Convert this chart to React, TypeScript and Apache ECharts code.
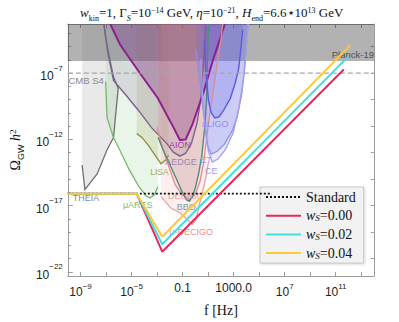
import { useEffect, useRef } from "react";
import * as echarts from "echarts";

// ---- axes (log10 units) ----
const X_MIN = -10;
const X_MAX = 14;
const Y_MIN = -22.32;
const Y_MAX = -3.3;
const X_TICKS = [-9, -7, -5, -3, -1, 1, 3, 5, 7, 9, 11, 13];
const X_LABELS = [-9, -5, -1, 3, 7, 11];
const Y_TICKS = [-22, -21, -20, -19, -18, -16, -15, -14, -13, -11, -10, -9, -8, -6, -5, -4];
const Y_LABELS = [-22, -17, -12, -7];
const Y_RIGHT_TICKS = [-21, -19, -17, -15, -13, -11, -9, -7, -5];

// ---- constraints ----
const PLANCK_19 = [[-10, -6.1], [14, -6.1]];
const CMB_S4 = [[-10, -7], [14, -7]];

// ---- sensitivity curves [log10 f, log10 Omega h^2] ----
const THEIA = [[-8.88, -13.94], [-8.66, -15.79], [-7.69, -14.6], [-6.94, -12.83], [-6.42, -11.87], [-6.2, -9.64], [-6.05, -8.16], [-6.42, -7.27], [-6.67, -6.16], [-7.02, -4.46], [-7.17, -3.3]];
const MU_ARES = [[-7.04, -7.64], [-6.92, -10.38], [-6.42, -11.87], [-5.92, -12.83], [-5.18, -14.31], [-4.43, -15.57], [-3.82, -16.31], [-3.57, -16.43], [-3.2, -16.18], [-2.94, -15.57]];
const LISA = [[-4.6, -11.57], [-4.19, -11.86], [-3.69, -12.46], [-3.22, -13.12], [-2.7, -13.84], [-2.33, -13.57], [-2.1, -13.2]];
const AEDGE = [[-7.17, -3.3], [-6.87, -5.42], [-6.42, -7.55], [-5.45, -8.66], [-4.43, -9.86], [-3.44, -11.12], [-2.2, -12.36], [-1.73, -12.97], [-1.21, -13.27], [-0.76, -13.05], [-0.31, -12.31], [0.13, -10.75], [0.43, -8.9], [0.66, -5.94], [0.8, -3.3]];
const AION = [[-6.67, -3.3], [-5.92, -4.83], [-4.43, -6.9], [-2.94, -8.9], [-1.71, -11.12], [-1.21, -12.06], [-0.76, -12.01], [-0.24, -10.9], [0.66, -8.38], [1.4, -5.94], [1.92, -4.46], [2.3, -3.3]];
const DECIGO = [[-3.0, -11.12], [-2.7, -12.23], [-2.33, -13.34], [-1.95, -14.45], [-1.58, -15.42], [-1.06, -16.16], [-0.46, -16.53], [-0.01, -16.16], [0.36, -15.19], [0.66, -13.71], [0.88, -11.86], [1.18, -9.64], [1.48, -7.79], [1.77, -5.94], [2.0, -4.46], [2.15, -3.3]];
const MU_DECIGO = [[-2.7, -16.31], [-1.95, -17.17], [-1.21, -17.54], [-0.61, -18.08], [-0.24, -18.42], [0.06, -18.08], [0.28, -17.04], [0.58, -15.93], [0.8, -14.97], [1.03, -13.71]];
const BBO = [[-2.92, -11.86], [-2.55, -12.75], [-2.1, -13.71], [-1.45, -15.07], [-1.06, -15.93], [-0.71, -16.55], [-0.46, -16.67], [-0.16, -16.16], [0.06, -15.42], [0.28, -14.45], [0.51, -13.2], [0.73, -11.12], [0.88, -8.9], [0.95, -5.94], [1.03, -3.3]];
const ET = [[0.04, -5.2], [0.21, -6.68], [0.41, -7.92], [0.58, -9.64], [0.78, -11.12], [0.95, -12.46], [1.25, -13.12], [1.7, -12.9], [2.27, -12.38], [2.89, -11.35], [3.26, -10.38], [3.64, -8.53], [3.86, -6.68], [4.01, -4.46], [4.08, -3.3]];
const CE = [[0.43, -5.94], [0.58, -8.9], [0.8, -11.49], [1.03, -12.97], [1.33, -13.71], [1.77, -13.49], [2.37, -12.75], [2.97, -11.49], [3.41, -9.64], [3.71, -7.79], [3.93, -5.94], [4.08, -4.09], [4.16, -3.3]];
const ALIGO = [[0.73, -4.46], [0.8, -6.68], [1.03, -9.12], [1.25, -10.01], [1.53, -10.38], [1.85, -10.31], [2.22, -9.79], [2.74, -8.9], [3.11, -7.79], [3.39, -6.68], [3.56, -5.2], [3.71, -3.72]];

// ---- model spectra ----
const STANDARD = [[-10, -16.1], [6, -16.1]];
const WS_000 = [[-10, -16.1], [-4.6, -16.1], [-2.6, -20.48], [11.63, -6.73]];
const WS_002 = [[-10, -16.1], [-4.6, -16.1], [-2.6, -19.92], [11.91, -5.82]];
const WS_004 = [[-10, -16.1], [-4.6, -16.1], [-2.6, -19.35], [12.13, -4.91]];

// ---- detector labels ----
const LABEL_TEXT = ["AION", "AEDGE", "LISA", "THEIA", "μARES", "DECIGO", "BBO", "μ-DECIGO", "aLIGO", "ET", "CE", "Planck-19", "CMB S4"];
const LABEL_POS = [[-1.21, -12.43], [-1.13, -13.72], [-2.82, -14.45], [-8.58, -16.4], [-4.52, -16.92], [-0.76, -16.26], [-0.72, -17.12], [-0.33, -18.96], [1.55, -10.86], [0.84, -13.58], [1.25, -14.42], [14, -5.58], [-9.95, -7.57]];

const CURVES = [THEIA, MU_ARES, LISA, AEDGE, AION, DECIGO, MU_DECIGO, BBO, ET, CE, ALIGO];
const CURVE_STYLE = [
  { line: "#6f6f6f", fill: "rgba(120,120,120,0.16)", w: 1.3 },
  { line: "#74b86e", fill: "rgba(110,185,100,0.15)", w: 1.3 },
  { line: "#8f8f3c", fill: "rgba(150,150,60,0.16)", w: 1.3 },
  { line: "#7e6190", fill: "rgba(140,110,165,0.2)", w: 1.4 },
  { line: "#8e1f8e", fill: "rgba(130,40,140,0.32)", w: 2 },
  { line: "#e38c84", fill: "rgba(240,140,130,0.14)", w: 1.3 },
  { line: "#eea0a0", fill: "rgba(240,150,150,0.15)", w: 1.3 },
  { line: "#4f8a86", fill: "rgba(100,80,80,0.12)", w: 1.4 },
  { line: "#9090e6", fill: "rgba(100,100,230,0.22)", w: 1.3 },
  { line: "#a0a0f0", fill: "rgba(110,110,235,0.15)", w: 1.3 },
  { line: "#5a5ae0", fill: "rgba(90,90,230,0.22)", w: 1.4 },
];
const LABEL_STYLE = [
  { c: "#a33fa3", a: "center" },
  { c: "#a083ae", a: "center" },
  { c: "#a5a55c", a: "center" },
  { c: "#8c8c8c", a: "center" },
  { c: "#7dbb7b", a: "center" },
  { c: "#f0a4a0", a: "center" },
  { c: "#7f9b9b", a: "center" },
  { c: "#f08c8c", a: "center" },
  { c: "#8c8cee", a: "center" },
  { c: "#9a9af0", a: "center" },
  { c: "#9a9af0", a: "center" },
  { c: "#505050", a: "right" },
  { c: "#8a8a8a", a: "left" },
];

const SERIF = '"Liberation Serif", "DejaVu Serif", serif';
const SANS = '"Liberation Sans", "DejaVu Sans", sans-serif';

const supRichX = {
  b: { fontSize: 12, fontFamily: SANS, color: "#222", verticalAlign: "bottom" },
  s: { fontSize: 8, fontFamily: SANS, color: "#222", verticalAlign: "top", padding: [0, 0, 8, 0] },
};
const supRichY = {
  b: { fontSize: 12, fontFamily: SANS, color: "#222", verticalAlign: "bottom", padding: [6, 0, 0, 0] },
  s: { fontSize: 8, fontFamily: SANS, color: "#222", verticalAlign: "top", padding: [0, 0, 8, 0] },
};

function powLabel(v: number): string {
  const n = Math.round(v);
  if (n === -1) return "{b|0.1}";
  if (n === 3) return "{b|1000.0}";
  return `{b|10}{s|${n < 0 ? "−" + -n : n}}`;
}

function mathRich(size: number, small: number) {
  return {
    n: { fontSize: size, fontFamily: SERIF, color: "#111", verticalAlign: "bottom", padding: [0, 0, 3, 0] },
    i: { fontSize: size, fontFamily: SERIF, fontStyle: "italic", color: "#111", verticalAlign: "bottom", padding: [0, 0, 3, 0] },
    sub: { fontSize: small, fontFamily: SERIF, color: "#111", verticalAlign: "bottom" },
    subi: { fontSize: small, fontFamily: SERIF, fontStyle: "italic", color: "#111", verticalAlign: "bottom" },
    subs: { fontSize: small, fontFamily: SANS, color: "#111", verticalAlign: "bottom" },
    sup: { fontSize: small, fontFamily: SERIF, color: "#111", verticalAlign: "top" },
  };
}

function fillSeries(pts: number[][], fill: string) {
  return {
    type: "custom",
    data: pts,
    clip: true,
    silent: true,
    z: 1,
    renderItem: (params: any, api: any) => {
      if (params.dataIndex !== 0) return null;
      const top = params.coordSys.y;
      const p = pts.map((d) => api.coord(d));
      const poly = [[p[0][0], top], ...p, [p[p.length - 1][0], top]];
      return { type: "polygon", shape: { points: poly }, style: { fill } };
    },
  };
}

function strokeSeries(pts: number[][], stroke: string, w: number) {
  return {
    type: "custom",
    data: pts,
    clip: true,
    silent: true,
    z: 2,
    renderItem: (params: any, api: any) => {
      if (params.dataIndex !== 0) return null;
      const p = pts.map((d) => api.coord(d));
      return { type: "polyline", shape: { points: p }, style: { stroke, lineWidth: w, fill: "none" } };
    },
  };
}

export default function App() {
  const ref = useRef<HTMLDivElement>(null);
  useEffect(() => {
    document.body.style.margin = "0";
    const chart = echarts.init(ref.current!, undefined, { renderer: "svg" });
    const frame = { show: true, onZero: false, lineStyle: { color: "#9c9c9c", width: 1 } };
    const tickStyle = { color: "#9c9c9c", width: 1 };
    const series: any[] = [];
    series.push(fillSeries(PLANCK_19, "rgba(0,0,0,0.3)"));
    CURVES.forEach((c, k) => series.push(fillSeries(c, CURVE_STYLE[k].fill)));
    CURVES.forEach((c, k) => series.push(strokeSeries(c, CURVE_STYLE[k].line, CURVE_STYLE[k].w)));
    series.push({
      type: "line", data: CMB_S4, symbol: "none", silent: true, z: 3,
      lineStyle: { color: "#a6a6a6", width: 1.3, type: [5, 3] },
    });
    series.push({
      type: "custom", data: LABEL_POS, silent: true, z: 4,
      renderItem: (params: any, api: any) => {
        const i = params.dataIndex;
        const c = api.coord([api.value(0), api.value(1)]);
        return {
          type: "text", x: c[0], y: c[1],
          style: {
            text: LABEL_TEXT[i], fill: LABEL_STYLE[i].c, fontSize: i >= 11 ? 9.5 : i === 2 ? 8.5 : 9,
            fontFamily: SANS, align: LABEL_STYLE[i].a, verticalAlign: "middle",
          },
        };
      },
    });
    const model = (name: string, data: number[][], color: string, type: any = "solid", w = 2) => ({
      name, type: "line", data, symbol: "none", silent: true, z: 5,
      lineStyle: { color, width: w, type }, itemStyle: { color },
    });
    series.push(model("Standard", STANDARD, "#111", [2, 2], 1.8));
    series.push(model("w_S=0.00", WS_000, "#e8285a"));
    series.push(model("w_S=0.02", WS_002, "#3fe0e0"));
    series.push(model("w_S=0.04", WS_004, "#fcc93a"));

    chart.setOption({
      animation: false,
      title: {
        text: "{i|w}{sub|kin}{n|=1, Γ}{subi|S}{n|=10}{sup|−14}{n| GeV, }{i|η}{n|=10}{sup|−21}{n|, }{i|H}{sub|end}{n|=6.6⋆10}{sup|13}{n| GeV}",
        left: 75, top: 1,
        textStyle: { fontSize: 13, fontFamily: SERIF, fontWeight: "normal", color: "#111", rich: mathRich(13, 8) },
      },
      legend: {
        data: ["Standard", "w_S=0.00", "w_S=0.02", "w_S=0.04"],
        orient: "vertical", left: 260, top: 187,
        padding: [3, 8, 3, 5], itemGap: 4.7, itemWidth: 35, itemHeight: 14,
        backgroundColor: "#f2f2f2", borderColor: "#c4c4c4", borderWidth: 1,
        shadowColor: "rgba(0,0,0,0.15)", shadowBlur: 2, shadowOffsetX: 1, shadowOffsetY: 1,
        itemStyle: { opacity: 0 },
        formatter: (name: string) => (name === "Standard" ? "{n|Standard}" : `{i|w}{subi|S}{n|=${name.slice(4)}}`),
        textStyle: {
          fontSize: 14, fontFamily: SERIF, color: "#111",
          rich: {
            n: { fontSize: 14, fontFamily: SERIF, color: "#111" },
            i: { fontSize: 14, fontFamily: SERIF, fontStyle: "italic", color: "#111" },
            subi: { fontSize: 9, fontFamily: SERIF, fontStyle: "italic", color: "#111", verticalAlign: "bottom" },
          },
        },
      },
      grid: { left: 52, top: 24, width: 322, height: 258, containLabel: false },
      xAxis: [
        {
          type: "value", min: X_MIN, max: X_MAX, position: "bottom",
          axisLine: frame, splitLine: { show: false },
          axisTick: { show: true, inside: true, length: 4, customValues: X_TICKS, lineStyle: tickStyle },
          axisLabel: { customValues: X_LABELS, formatter: powLabel, rich: supRichX, margin: 6 },
          name: "f [Hz]", nameLocation: "middle", nameGap: 21,
          nameTextStyle: { fontSize: 14, fontFamily: SERIF, color: "#111" },
        },
        {
          type: "value", min: X_MIN, max: X_MAX, position: "top",
          axisLine: frame, splitLine: { show: false },
          axisTick: { show: true, inside: true, length: 4, customValues: X_TICKS, lineStyle: tickStyle },
          axisLabel: { show: false },
        },
      ],
      yAxis: [
        {
          type: "value", min: Y_MIN, max: Y_MAX, position: "left",
          axisLine: frame, splitLine: { show: false },
          axisTick: { show: true, inside: true, length: 5, customValues: Y_LABELS, lineStyle: tickStyle },
          axisLabel: { customValues: Y_LABELS, formatter: powLabel, rich: supRichY, margin: 5 },
          name: "{n|Ω}{subs|GW}{n| }{i|h}{sup|2}", nameLocation: "middle", nameRotate: 90, nameGap: 33,
          nameTextStyle: { fontSize: 14, fontFamily: SERIF, color: "#111", rich: mathRich(14, 9) },
        },
        {
          type: "value", min: Y_MIN, max: Y_MAX, position: "left",
          axisLine: { show: false, onZero: false }, splitLine: { show: false },
          axisTick: { show: true, inside: true, length: 3, customValues: Y_TICKS, lineStyle: tickStyle },
          axisLabel: { show: false },
        },
        {
          type: "value", min: Y_MIN, max: Y_MAX, position: "right",
          axisLine: frame, splitLine: { show: false },
          axisTick: { show: true, inside: true, length: 3, customValues: Y_RIGHT_TICKS, lineStyle: tickStyle },
          axisLabel: { show: false },
        },
      ],
      series,
    });
    return () => chart.dispose();
  }, []);
  return <div ref={ref} style={{ width: 399, height: 322 }} />;
}
